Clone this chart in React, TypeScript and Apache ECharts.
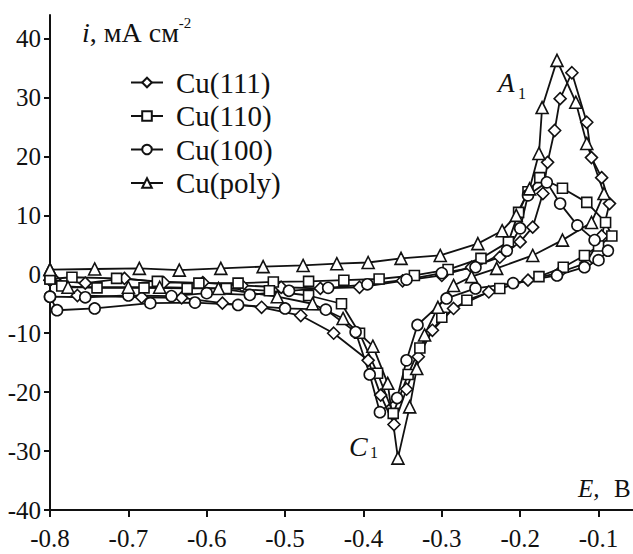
import React, { useEffect, useRef } from 'react';
import * as echarts from 'echarts';

const xTicks = [-0.8, -0.7, -0.6, -0.5, -0.4, -0.3, -0.2, -0.1];
const yTicks = [-40, -30, -20, -10, 0, 10, 20, 30, 40];
const seriesNames = ['Cu(111)', 'Cu(110)', 'Cu(100)', 'Cu(poly)'];

// [E (V), i (mA cm^-2)] — anodic sweep then cathodic sweep
const cu111: number[][] = [
  [-0.800, -1.0], [-0.755, -1.5], [-0.705, -0.7], [-0.655, -1.4], [-0.605, -1.4],
  [-0.555, -1.9], [-0.505, -2.2], [-0.455, -2.4], [-0.405, -2.2], [-0.350, -1.1],
  [-0.300, -0.2], [-0.262, 1.2], [-0.226, 2.9], [-0.200, 5.5], [-0.184, 8.0],
  [-0.171, 13.7], [-0.165, 19.0], [-0.156, 24.4], [-0.149, 29.8], [-0.134, 34.2],
  [-0.115, 25.8], [-0.109, 19.8], [-0.096, 16.4], [-0.086, 12.0],
  [-0.096, 6.5], [-0.116, 1.9], [-0.150, 0.3], [-0.190, -1.0], [-0.240, -3.0],
  [-0.285, -5.8], [-0.312, -9.5], [-0.330, -14.0], [-0.345, -19.5], [-0.361, -25.5],
  [-0.378, -20.5], [-0.394, -14.6], [-0.438, -10.0], [-0.480, -7.0], [-0.530, -5.6],
  [-0.580, -4.9], [-0.632, -4.0], [-0.683, -3.9], [-0.765, -3.6], [-0.800, -1.0],
];

const cu110: number[][] = [
  [-0.800, -0.8], [-0.772, -0.5], [-0.715, -0.7], [-0.663, -1.2], [-0.610, -1.5],
  [-0.560, -1.5], [-0.515, -1.3], [-0.470, -1.2], [-0.425, -1.0], [-0.380, -0.8],
  [-0.335, -0.2], [-0.292, 0.8], [-0.250, 2.7], [-0.215, 5.5], [-0.202, 10.5],
  [-0.190, 14.0], [-0.175, 16.4], [-0.146, 14.6], [-0.115, 12.2], [-0.091, 8.8],
  [-0.083, 6.5],
  [-0.100, 4.8], [-0.118, 3.2], [-0.145, 1.2], [-0.176, -0.4], [-0.226, -2.4],
  [-0.268, -4.4], [-0.300, -7.3], [-0.328, -12.5], [-0.343, -17.0], [-0.362, -23.6],
  [-0.382, -16.8], [-0.405, -10.0], [-0.428, -5.0], [-0.470, -3.6], [-0.520, -2.8],
  [-0.575, -2.4], [-0.625, -2.4], [-0.680, -2.3], [-0.740, -2.3], [-0.785, -2.0],
  [-0.800, -0.8],
];

const cu100: number[][] = [
  [-0.800, -3.8], [-0.755, -3.9], [-0.700, -3.6], [-0.645, -3.7], [-0.600, -3.2],
  [-0.545, -3.5], [-0.495, -2.8], [-0.445, -2.3], [-0.395, -1.7], [-0.345, -0.9],
  [-0.300, 0.2], [-0.257, 1.2], [-0.217, 4.0], [-0.200, 7.8], [-0.190, 13.4],
  [-0.166, 15.6], [-0.149, 12.0], [-0.127, 8.3], [-0.105, 5.8], [-0.088, 4.0],
  [-0.100, 2.4], [-0.118, 1.2], [-0.153, -0.2], [-0.209, -1.5], [-0.257, -2.4],
  [-0.294, -4.1], [-0.331, -8.6], [-0.345, -14.6], [-0.357, -21.0], [-0.379, -23.4],
  [-0.392, -17.0], [-0.410, -9.8], [-0.448, -6.0], [-0.500, -5.8], [-0.560, -5.2],
  [-0.615, -4.8], [-0.672, -4.9], [-0.743, -5.8], [-0.791, -6.1], [-0.800, -3.8],
];

const cuPoly: number[][] = [
  [-0.800, 0.8], [-0.743, 0.9], [-0.686, 1.0], [-0.635, 0.7], [-0.582, 1.0],
  [-0.528, 1.3], [-0.477, 1.5], [-0.434, 1.8], [-0.394, 2.0], [-0.352, 2.7],
  [-0.302, 3.2], [-0.254, 5.2], [-0.223, 7.4], [-0.205, 10.0], [-0.188, 14.5],
  [-0.176, 20.5], [-0.172, 28.3], [-0.153, 36.3], [-0.129, 29.2], [-0.115, 22.2],
  [-0.093, 13.7],
  [-0.109, 8.8], [-0.146, 5.8], [-0.184, 3.2], [-0.230, 1.0], [-0.262, -0.4],
  [-0.285, -1.9], [-0.305, -5.6], [-0.322, -10.3], [-0.332, -16.0], [-0.341, -22.5],
  [-0.356, -31.2], [-0.369, -18.5], [-0.388, -12.2], [-0.426, -7.5], [-0.465, -5.0],
  [-0.510, -3.8], [-0.585, -2.4], [-0.660, -2.2], [-0.700, -2.2], [-0.777, -2.2],
  [-0.800, 0.8],
];

export default function App() {
  const ref = useRef<HTMLDivElement>(null);

  useEffect(() => {
    if (!ref.current) return;
    const chart = echarts.init(ref.current, null, { renderer: 'svg' });
    const font = 'Liberation Serif';
    const ink = '#111';

    const mk = (name: string, data: number[][], symbol: string, size: number) => ({
      name,
      type: 'line',
      data,
      symbol,
      symbolSize: size,
      showSymbol: true,
      showAllSymbol: true,
      lineStyle: { color: ink, width: 1.8 },
      itemStyle: { color: '#fff', borderColor: ink, borderWidth: 1.6 },
      emphasis: { disabled: true },
      silent: true,
    });

    const txt = (text: string, x: number, y: number, size: number, italic = false) => ({
      type: 'text',
      x,
      y,
      silent: true,
      style: {
        text,
        fontFamily: font,
        fontSize: size,
        fontStyle: italic ? 'italic' : 'normal',
        fill: ink,
        align: 'left',
        verticalAlign: 'middle',
        textAlign: 'left',
        textVerticalAlign: 'middle',
      },
    });

    chart.setOption({
      animation: false,
      backgroundColor: '#fff',
      textStyle: { fontFamily: font },
      grid: { left: 50, right: 0, top: 15, bottom: 44, containLabel: false, outerBoundsMode: 'none' },
      xAxis: {
        type: 'value',
        min: -0.8,
        max: -0.056,
        axisLine: { show: true, onZero: false, lineStyle: { color: ink, width: 2 } },
        axisTick: { show: true, length: 7, lineStyle: { color: ink, width: 2 }, customValues: xTicks },
        axisLabel: {
          customValues: xTicks,
          formatter: (v: number) => v.toFixed(1),
          fontFamily: font,
          fontSize: 25,
          color: ink,
          margin: 16,
        },
        splitLine: { show: false },
      },
      yAxis: {
        type: 'value',
        min: -40,
        max: 44,
        axisLine: { show: true, onZero: false, lineStyle: { color: ink, width: 2 } },
        axisTick: { show: true, length: 6, lineStyle: { color: ink, width: 2 }, customValues: yTicks },
        axisLabel: {
          customValues: yTicks,
          formatter: (v: number) => String(v),
          fontFamily: font,
          fontSize: 25,
          color: ink,
          margin: 9,
        },
        splitLine: { show: false },
      },
      legend: {
        orient: 'vertical',
        left: 130,
        top: 68,
        padding: 0,
        itemWidth: 32,
        itemHeight: 12,
        itemGap: 4.5,
        selectedMode: false,
        data: seriesNames,
        textStyle: { fontFamily: font, fontSize: 29, color: ink, lineHeight: 29, padding: [0, 0, 0, 8] },
      },
      series: [
        mk(seriesNames[0], cu111, 'diamond', 12),
        mk(seriesNames[1], cu110, 'rect', 10),
        mk(seriesNames[2], cu100, 'circle', 11),
        mk(seriesNames[3], cuPoly, 'triangle', 12),
      ],
      graphic: [
        {
          type: 'text',
          x: 82,
          y: 15,
          silent: true,
          style: {
            text: '{i|i}{n|, мА см}{s|-2}',
            fill: ink,
            align: 'left',
            verticalAlign: 'top',
            textAlign: 'left',
            textVerticalAlign: 'top',
            rich: {
              i: { fontFamily: font, fontSize: 28, fontStyle: 'italic', lineHeight: 31, verticalAlign: 'bottom', fill: ink },
              n: { fontFamily: font, fontSize: 28, lineHeight: 31, verticalAlign: 'bottom', fill: ink },
              s: { fontFamily: font, fontSize: 15, lineHeight: 15, verticalAlign: 'top', fill: ink },
            },
          },
        },
        txt('A', 498, 83, 27, true),
        txt('1', 518, 93, 16),
        txt('C', 349, 446, 28, true),
        txt('1', 370, 452, 16),
        txt('E,', 578, 488, 25, true),
        txt('B', 614, 488, 25),
      ],
    });

    return () => chart.dispose();
  }, []);

  return (
    <div
      ref={ref}
      style={{ position: 'fixed', left: 0, top: 0, width: 633, height: 554, background: '#fff' }}
    />
  );
}
